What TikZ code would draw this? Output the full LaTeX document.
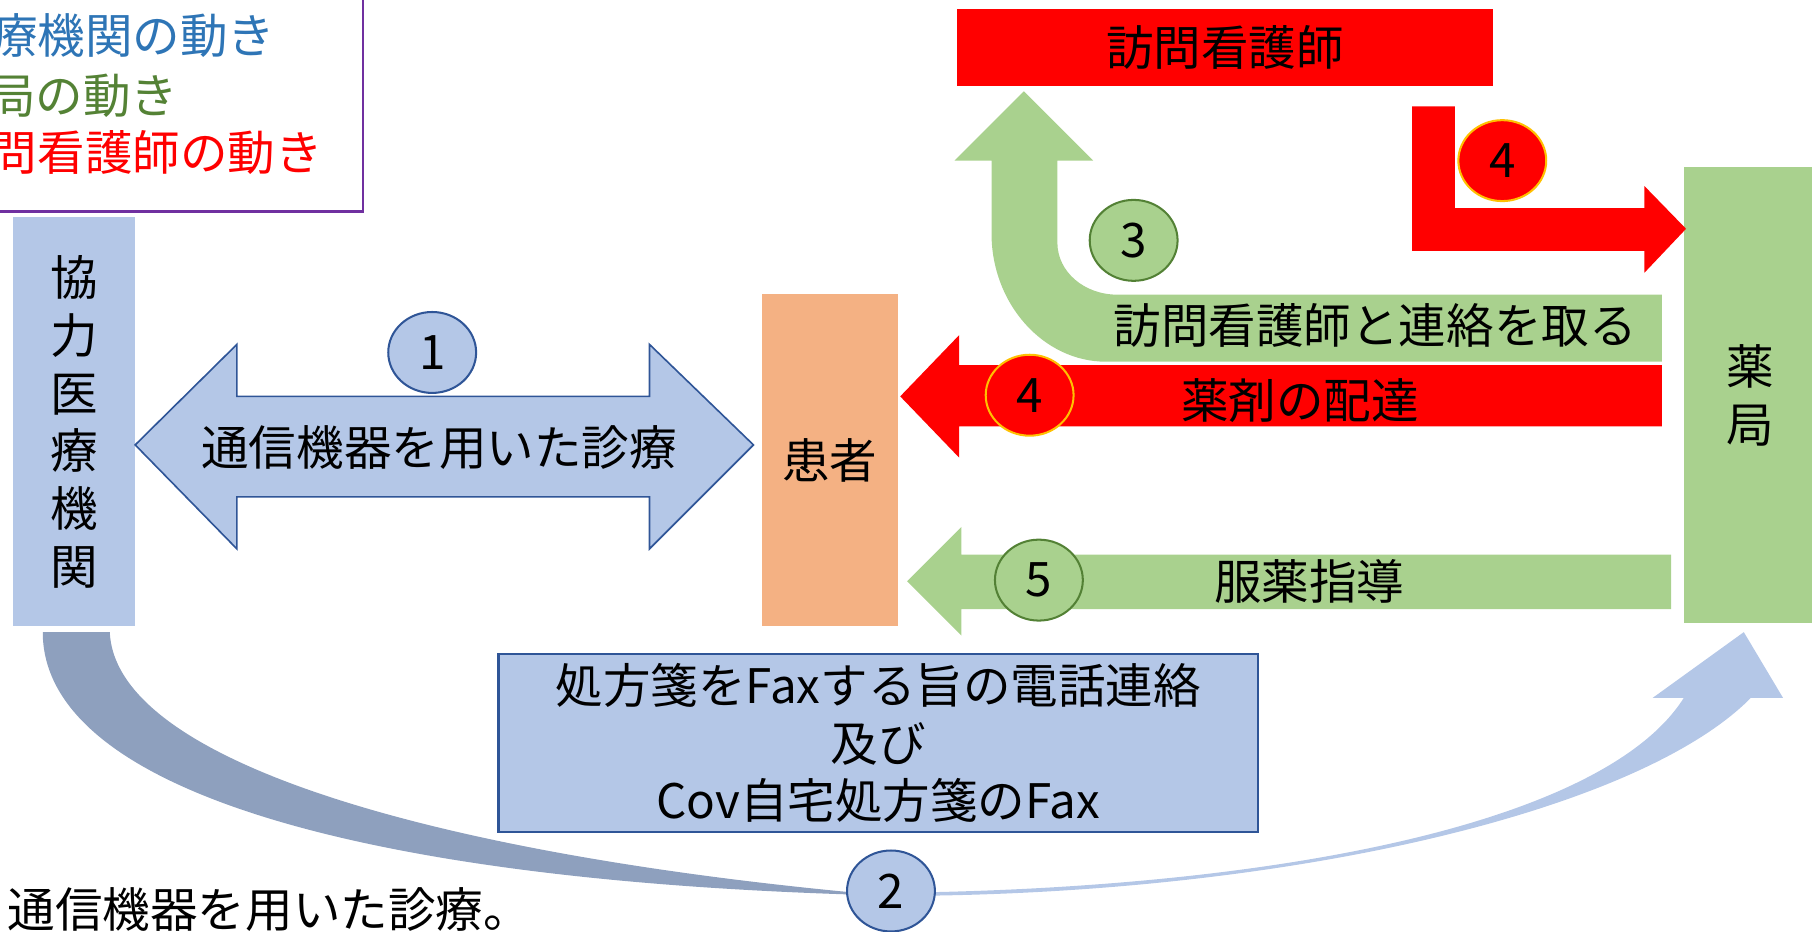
\documentclass[tikz,border=0pt]{standalone}
\usepackage{fontspec}
\setmainfont{Noto Sans CJK JP}
\usetikzlibrary{shapes.geometric}

\definecolor{paleblue}{HTML}{B4C7E7}
\definecolor{edgeblue}{HTML}{2F5597}
\definecolor{curvegray}{HTML}{8EA0BE}
\definecolor{patientorange}{HTML}{F4B183}
\definecolor{pharmgreen}{HTML}{A9D18E}
\definecolor{edgegreen}{HTML}{538135}
\definecolor{edgegold}{HTML}{FFC000}
\definecolor{legendpurple}{HTML}{7030A0}
\definecolor{textblue}{HTML}{2E75B6}
\definecolor{textgreen}{HTML}{548235}

\newcommand{\jpfont}{\fontsize{11.7pt}{14.2pt}\selectfont}

\begin{document}
\begin{tikzpicture}[x = 0.01cm, y = -0.01cm,
    every node/.style = {font = \jpfont, inner sep = 0pt},
    tile/.style = {rectangle, align = center},
    num/.style = {ellipse, draw, line width = 0.5pt, minimum width = 0.76cm, minimum height = 0.70cm}]

  \useasboundingbox (0, 0) rectangle (1568, 806);
  \clip (0, 0) rectangle (1568, 806);

  \draw[legendpurple, line width = 0.6pt, fill = white] (-20, -20) rectangle (314, 183);
  \node[anchor = east, text = textblue] (legclinic) at (239, 31) {協力医療機関の動き};
  \node[anchor = east, text = textgreen] (legpharm) at (155, 83) {薬局の動き};
  \node[anchor = east, text = red] (legnurse) at (280, 132) {訪問看護師の動き};

  \node[tile, fill = paleblue, minimum width = 1.06cm, minimum height = 3.54cm] (clinic) at (64, 365) {協\\力\\医\\療\\機\\関};
  \node[tile, fill = patientorange, minimum width = 1.18cm, minimum height = 2.87cm] (patient) at (718, 398) {患者};
  \node[tile, fill = pharmgreen, minimum width = 1.16cm, minimum height = 3.94cm] (pharmacy) at (1515, 342) {薬\\局};
  \node[tile, fill = red, minimum width = 4.64cm, minimum height = 0.67cm] (nurse) at (1060, 41) {訪問看護師};
  \node[tile, fill = paleblue, draw = edgeblue, line width = 0.6pt, minimum width = 6.57cm, minimum height = 1.54cm] (fax) at (760, 643) {処方箋をFaxする旨の電話連絡\\及び\\Cov自宅処方箋のFax};

  \fill[curvegray] (37, 547) -- (95, 547) .. controls (100, 660) and (380, 738) .. (735, 772)
    -- (735, 774) .. controls (300, 760) and (37, 680) .. (37, 547) -- cycle;
  \fill[paleblue] (808, 772) .. controls (1120, 765) and (1390, 710) .. (1457, 604) -- (1430, 604)
    -- (1509, 547) -- (1543, 604) -- (1515, 604) .. controls (1420, 700) and (1130, 770) .. (808, 775) -- cycle;

  \filldraw[fill = paleblue, draw = edgeblue, line width = 0.4pt] (117, 385) -- (205, 298) -- (205, 343) -- (562, 343)
    -- (562, 298) -- (652, 385) -- (562, 475) -- (562, 430) -- (205, 430) -- (205, 475) -- cycle;
  \node (remote) at (380, 387) {通信機器を用いた診療};

  \fill[pharmgreen] (1438, 255) -- (967, 255) .. controls (938, 255) and (915, 235) .. (915, 210) -- (915, 139)
    -- (946, 139) -- (886, 79) -- (826, 139) -- (858, 139) -- (858, 202)
    .. controls (858, 263) and (903, 313) .. (957, 313) -- (1438, 313) -- cycle;
  \node (contact) at (1190, 282) {訪問看護師と連絡を取る};

  \fill[red] (1438, 316) -- (830, 316) -- (830, 290) -- (779, 343) -- (830, 396) -- (830, 369) -- (1438, 369) -- cycle;
  \node (delivery) at (1125, 347) {薬剤の配達};

  \fill[red] (1222, 92) -- (1259, 92) -- (1259, 180) -- (1423, 180) -- (1423, 161) -- (1459, 198)
    -- (1423, 236) -- (1423, 217) -- (1222, 217) -- cycle;

  \fill[pharmgreen] (1446, 480) -- (832, 480) -- (832, 456) -- (785, 503) -- (832, 550) -- (832, 527) -- (1446, 527) -- cycle;
  \node (guidance) at (1133, 503) {服薬指導};

  \node[num, fill = paleblue, draw = edgeblue] (one) at (374, 305) {1};
  \node[num, fill = paleblue, draw = edgeblue] (two) at (771, 771) {2};
  \node[num, fill = pharmgreen, draw = edgegreen] (three) at (981, 208) {3};
  \node[num, fill = red, draw = edgegold] (fourtop) at (1300, 139) {4};
  \node[num, fill = red, draw = edgegold] (fourmid) at (891, 342) {4};
  \node[num, fill = pharmgreen, draw = edgegreen] (five) at (899, 502) {5};

  \node[anchor = east] (remark) at (460, 787) {通信機器を用いた診療。};

\end{tikzpicture}
\end{document}
